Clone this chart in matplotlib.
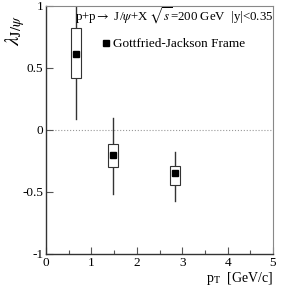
import matplotlib
matplotlib.use("Agg")
import matplotlib.pyplot as plt
from matplotlib.patches import Rectangle

# data
pt = [0.65, 1.48, 2.85]
lam = [0.61, -0.20, -0.35]
stat_lo = [0.09, -0.52, -0.57]
stat_hi = [1.05, 0.10, -0.175]
sys_lo = [0.42, -0.30, -0.44]
sys_hi = [0.82, -0.11, -0.29]

plt.rcParams['font.family'] = ['Liberation Serif', 'DejaVu Serif']
plt.rcParams['mathtext.fontset'] = 'stix'

fig = plt.figure(figsize=(2.91, 2.91), dpi=100)
ax = fig.add_axes([46/291, 1 - 254/291, (273-46)/291, (254-6)/291])

ax.axhline(0, color='#999999', linestyle=':', linewidth=0.8, zorder=1)

half_w = 0.11
for x, y, slo, shi, blo, bhi in zip(pt, lam, stat_lo, stat_hi, sys_lo, sys_hi):
    ax.plot([x, x], [slo, shi], color='#333333', linewidth=1.0, zorder=2, clip_on=True)
    ax.add_patch(Rectangle((x - half_w, blo), 2 * half_w, bhi - blo,
                           facecolor='white', edgecolor='#333333', linewidth=0.8, zorder=3))
ax.plot(pt, lam, 's', color='black', markersize=4.5, zorder=4)

ax.set_xlim(0, 5)
ax.set_ylim(-1, 1)
ax.set_xticks([0, 1, 2, 3, 4, 5])
ax.set_xticks([0.5, 1.5, 2.5, 3.5, 4.5], minor=True)
ax.set_yticks([-1, -0.5, 0, 0.5, 1])
ax.set_yticklabels(['-1', '-0.5', '0', '0.5', '1'])
ax.tick_params(direction='in', labelsize=9.5, length=5, width=0.8, color='#555555', pad=2)
ax.tick_params(which='minor', direction='in', length=3, width=0.8, color='#555555')
for s in ['top', 'right']:
    ax.spines[s].set_color('#888888')
    ax.spines[s].set_linewidth(0.8)
for s in ['left', 'bottom']:
    ax.spines[s].set_color('#333333')
    ax.spines[s].set_linewidth(1.0)

ax.text(0.63, 0.885, r'p+p$\rightarrow$ J/$\psi$+X $\sqrt{s}$=200 GeV  |y|<0.35',
        fontsize=9.3, va='baseline')
ax.plot([1.32], [0.7], 's', color='black', markersize=4.5)
ax.text(1.47, 0.67, 'Gottfried-Jackson Frame', fontsize=9.5, va='baseline')

ax.set_ylabel(r'$\lambda_{\mathrm{J}/\psi}$', fontsize=15)
ax.yaxis.set_label_coords(-0.085, 0.9)
ax.set_xlabel(r'p$_\mathrm{T}$  [GeV/c]', fontsize=10, loc='right', labelpad=1)

fig.savefig('out.png', dpi=100)
